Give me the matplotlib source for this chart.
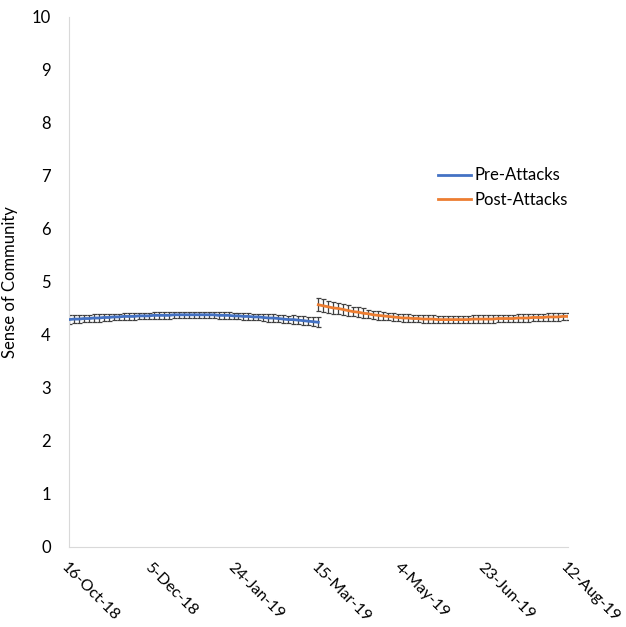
import numpy as np
import pandas as pd
import matplotlib
matplotlib.use("Agg")
import matplotlib.pyplot as plt
import matplotlib.dates as mdates
import matplotlib.transforms as mtransforms

# -------------------------------
# DATA (every 3 days)
# -------------------------------
START = pd.Timestamp("2018-10-16")

pre_days = list(range(0, 151, 3))
pre_mean = [4.29, 4.30, 4.30, 4.31, 4.31, 4.32, 4.32, 4.33, 4.33, 4.34,
            4.34, 4.35, 4.35, 4.35, 4.36, 4.36, 4.36, 4.37, 4.37, 4.37,
            4.37, 4.38, 4.38, 4.38, 4.38, 4.38, 4.38, 4.38, 4.38, 4.38,
            4.37, 4.37, 4.37, 4.36, 4.36, 4.35, 4.35, 4.34, 4.34, 4.33,
            4.32, 4.32, 4.31, 4.30, 4.29, 4.29, 4.28, 4.27, 4.26, 4.25,
            4.24]
pre_err = [0.08, 0.08, 0.08, 0.07, 0.07, 0.07, 0.07, 0.07, 0.06, 0.06,
           0.06, 0.06, 0.06, 0.06, 0.06, 0.06, 0.06, 0.06, 0.06, 0.06,
           0.06, 0.06, 0.06, 0.06, 0.06, 0.06, 0.06, 0.06, 0.06, 0.06,
           0.06, 0.06, 0.06, 0.06, 0.06, 0.06, 0.06, 0.06, 0.06, 0.07,
           0.07, 0.07, 0.07, 0.07, 0.07, 0.08, 0.08, 0.08, 0.08, 0.09,
           0.09]

post_days = list(range(150, 301, 3))
post_mean = [4.57, 4.55, 4.53, 4.51, 4.50, 4.48, 4.46, 4.44, 4.43, 4.41,
             4.40, 4.38, 4.37, 4.36, 4.35, 4.34, 4.33, 4.32, 4.32, 4.31,
             4.31, 4.30, 4.30, 4.30, 4.29, 4.29, 4.29, 4.29, 4.29, 4.29,
             4.29, 4.30, 4.30, 4.30, 4.30, 4.30, 4.31, 4.31, 4.31, 4.31,
             4.32, 4.32, 4.32, 4.33, 4.33, 4.33, 4.34, 4.34, 4.34, 4.35,
             4.35]
post_err = [0.12, 0.12, 0.11, 0.11, 0.10, 0.10, 0.10, 0.09, 0.09, 0.09,
            0.08, 0.08, 0.08, 0.08, 0.07, 0.07, 0.07, 0.07, 0.07, 0.07,
            0.07, 0.07, 0.07, 0.07, 0.07, 0.07, 0.07, 0.07, 0.07, 0.07,
            0.07, 0.07, 0.07, 0.07, 0.07, 0.07, 0.07, 0.07, 0.07, 0.07,
            0.07, 0.07, 0.07, 0.07, 0.07, 0.07, 0.07, 0.07, 0.07, 0.07,
            0.07]

tick_days = [0, 50, 100, 150, 200, 250, 300]

pre_dates = START + pd.to_timedelta(pre_days, unit="D")
post_dates = START + pd.to_timedelta(post_days, unit="D")
tick_dates = START + pd.to_timedelta(tick_days, unit="D")

# -------------------------------
# PLOT
# -------------------------------
plt.rcParams["font.family"] = ["Lato", "DejaVu Sans"]

fig = plt.figure(figsize=(6.26, 6.27), dpi=100)
ax = fig.add_axes([0.110, 0.1276, 0.797, 0.8454])

ax.errorbar(pre_dates, pre_mean, yerr=pre_err, fmt="none", ecolor="#404040",
            elinewidth=0.9, capsize=1.8, capthick=0.9, zorder=2)
ax.errorbar(post_dates, post_mean, yerr=post_err, fmt="none", ecolor="#404040",
            elinewidth=0.9, capsize=1.8, capthick=0.9, zorder=2)
ax.plot(pre_dates, pre_mean, color="#4472C4", lw=2, label="Pre-Attacks", zorder=3)
ax.plot(post_dates, post_mean, color="#ED7D31", lw=2, label="Post-Attacks", zorder=3)

ax.set_ylim(0, 10)
ax.set_yticks(range(0, 11))
ax.set_xlim(tick_dates[0], tick_dates[-1])
ax.set_xticks(tick_dates)
ax.xaxis.set_major_formatter(mdates.DateFormatter("%-d-%b-%y"))

for s in ["top", "right"]:
    ax.spines[s].set_visible(False)
for s in ["left", "bottom"]:
    ax.spines[s].set_color("#d9d9d9")
ax.tick_params(length=0, labelsize=12, colors="#000000")
ax.tick_params(axis="y", pad=13)
ax.tick_params(axis="x", pad=0)

# rotated date labels hanging down-right from just under each tick
offset = mtransforms.ScaledTranslation(0 / 100, -13 / 100, fig.dpi_scale_trans)
for lab in ax.get_xticklabels():
    lab.set_rotation(-45)
    lab.set_ha("left")
    lab.set_va("top")
    lab.set_rotation_mode("anchor")
    lab.set_fontsize(11.5)
    lab.set_transform(lab.get_transform() + offset)

ax.set_ylabel("Sense of Community", fontsize=12, labelpad=10)

ax.legend(loc="center left", bbox_to_anchor=(438 / 626, 1 - 187.5 / 627),
          bbox_transform=fig.transFigure, frameon=False, fontsize=12,
          handlelength=2.0, handletextpad=0.2, labelspacing=0.5,
          borderpad=0, borderaxespad=0)

fig.savefig("out.png", dpi=100)
